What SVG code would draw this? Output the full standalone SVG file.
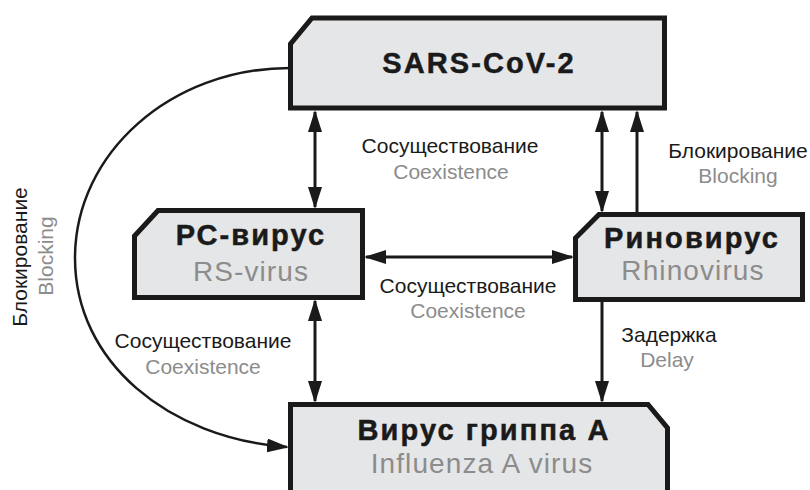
<svg xmlns="http://www.w3.org/2000/svg" width="810" height="490" viewBox="0 0 810 490">
<style>
.box{fill:#e5e6e8;stroke:#1a1a1a;stroke-width:5;stroke-linejoin:miter}
.t{font-family:"Liberation Sans",Arial,sans-serif;text-anchor:middle}
.b{font-weight:bold;font-size:29px;fill:#1a1a1a;letter-spacing:2.1px;stroke:#1a1a1a;stroke-width:0.5}
.g{font-size:28px;fill:#8c8c8c;letter-spacing:1.1px}
.l{font-size:21px;fill:#1a1a1a}
.lg{font-size:21px;fill:#8c8c8c}
.c{fill:none;stroke:#1a1a1a;stroke-width:3}
</style>
<defs>
<marker id="ah" markerUnits="userSpaceOnUse" markerWidth="22" markerHeight="14" refX="20" refY="7" orient="auto-start-reverse">
<path d="M0,0 L22,7 L0,14 z" fill="#1a1a1a"/>
</marker>
</defs>
<rect width="810" height="490" fill="#ffffff"/>
<g id="connectors">
<line class="c" x1="315" y1="112" x2="315" y2="207" marker-start="url(#ah)" marker-end="url(#ah)"/>
<line class="c" x1="602" y1="112" x2="602" y2="211" marker-start="url(#ah)" marker-end="url(#ah)"/>
<line class="c" x1="637" y1="212" x2="637" y2="112" marker-end="url(#ah)"/>
<line class="c" x1="366" y1="257" x2="572" y2="257" marker-start="url(#ah)" marker-end="url(#ah)"/>
<line class="c" x1="315" y1="301" x2="315" y2="401" marker-start="url(#ah)" marker-end="url(#ah)"/>
<line class="c" x1="602" y1="302" x2="602" y2="401" marker-end="url(#ah)"/>
<path class="c" style="stroke-width:2.5" d="M290,68 C171,68 75,153 75,258 C75,362 168,438 287,447" marker-end="url(#ah)"/>
</g>
<g id="sars">
<path class="box" d="M312,18 L664.5,18 L664.5,108 L290.5,108 L290.5,44 Z"/>
<text class="t b" x="479" y="73">SARS-CoV-2</text>
</g>
<g id="rs">
<path class="box" d="M158,210.5 L362.5,210.5 L362.5,297.5 L134.5,297.5 L134.5,236 Z"/>
<text class="t b" x="251" y="245">РС-вирус</text>
<text class="t g" x="251" y="281">RS-virus</text>
</g>
<g id="rhino">
<path class="box" d="M599,214.5 L802.5,214.5 L802.5,299.5 L575.5,299.5 L575.5,238 Z"/>
<text class="t b" x="692" y="248">Риновирус</text>
<text class="t g" x="693" y="280">Rhinovirus</text>
</g>
<g id="flu">
<path class="box" d="M290.5,404.5 L648,404.5 L667.5,428 L667.5,500 L290.5,500 Z"/>
<text class="t b" x="484" y="440">Вирус гриппа А</text>
<text class="t g" x="482" y="473">Influenza A virus</text>
</g>
<g id="labels">
<text class="t l" x="450" y="153">Сосуществование</text>
<text class="t lg" x="451" y="179">Coexistence</text>
<text class="t l" x="468" y="293">Сосуществование</text>
<text class="t lg" x="468" y="318">Coexistence</text>
<text class="t l" x="203" y="348">Сосуществование</text>
<text class="t lg" x="203" y="374">Coexistence</text>
<text class="t l" x="738" y="158">Блокирование</text>
<text class="t lg" x="738" y="183">Blocking</text>
<text class="t l" x="669" y="342">Задержка</text>
<text class="t lg" x="667" y="367">Delay</text>
<text class="t l" transform="translate(27,257) rotate(-90)">Блокирование</text>
<text class="t lg" transform="translate(53,256) rotate(-90)">Blocking</text>
</g>
</svg>
